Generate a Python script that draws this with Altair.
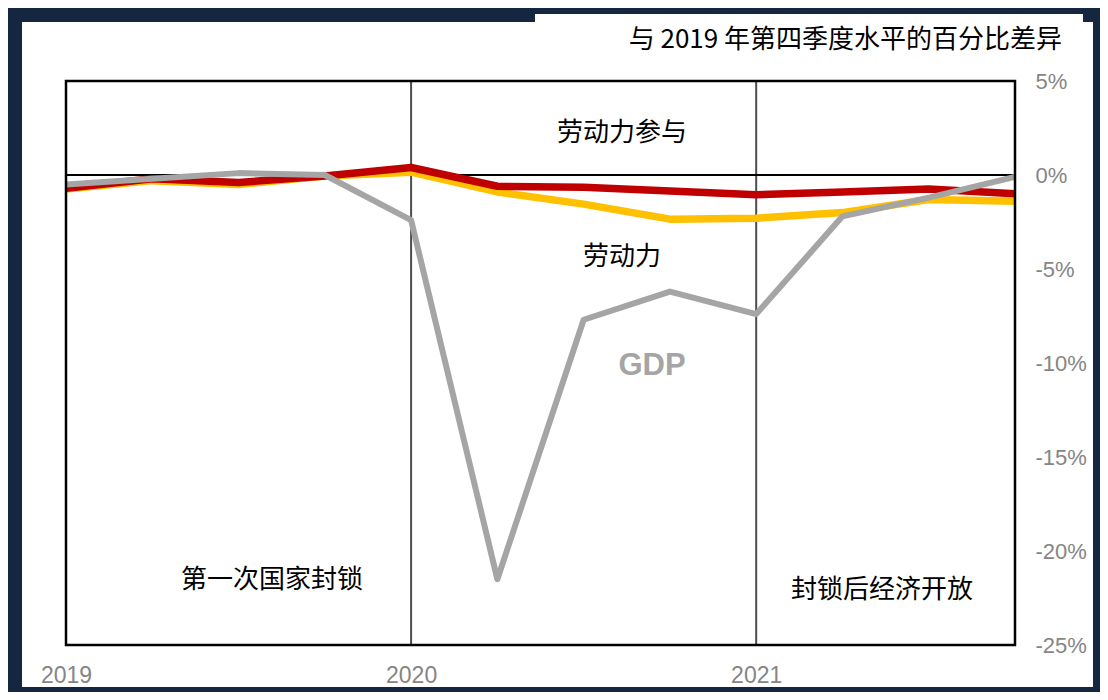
import altair as alt
import pandas as pd

# ---- data (quarters 2019Q1 .. 2021Q4, % difference vs 2019Q4) ----
quarters = ["2019Q1", "2019Q2", "2019Q3", "2019Q4",
            "2020Q1", "2020Q2", "2020Q3", "2020Q4",
            "2021Q1", "2021Q2", "2021Q3", "2021Q4"]
gdp = [-0.5, -0.2, 0.1, 0.0, -2.4, -21.5, -7.7, -6.2, -7.4, -2.2, -1.2, -0.1]
participation = [-0.7, -0.2, -0.4, -0.05, 0.4, -0.6, -0.65, -0.85, -1.05, -0.9, -0.75, -1.0]
labour_force = [-0.75, -0.3, -0.5, -0.05, 0.15, -0.9, -1.55, -2.35, -2.3, -2.0, -1.3, -1.4]

year_ticks = [0, 4, 8]
year_labels = ["2019", "2020", "2021"]
pct_ticks = [5, 0, -5, -10, -15, -20, -25]

series_names = ["劳动力", "劳动力参与", "GDP"]
series_colors = ["#ffc000", "#c00000", "#a5a5a5"]
series_widths = [7.5, 7.5, 6]

rows = []
for name, vals in zip(series_names, [labour_force, participation, gdp]):
    for i, (q, v) in enumerate(zip(quarters, vals)):
        rows.append({"idx": i, "q": q, "value": v, "series": name})
df = pd.DataFrame(rows)

W, H = 949, 564
NAVY = "#152640"

xscale = alt.Scale(domain=[0, 11], nice=False, zero=False)
yscale = alt.Scale(domain=[-25, 5], nice=False, zero=False)

one = pd.DataFrame({"a": [0]})

# white panel and title box
panel = alt.Chart(one).mark_rect(color="white").encode(
    x=alt.value(-44), x2=alt.value(1027), y=alt.value(-59), y2=alt.value(606)
)
title_box = alt.Chart(one).mark_rect(color="white").encode(
    x=alt.value(469), x2=alt.value(1017), y=alt.value(-67), y2=alt.value(-40)
)

# vertical year separators
vdf = pd.DataFrame({"idx": [4, 8]})
vlines = alt.Chart(vdf).mark_rule(color="#4d4d4d", strokeWidth=2).encode(
    x=alt.X("idx:Q", scale=xscale)
)
zero_df = pd.DataFrame({"v": [0]})
zline = alt.Chart(zero_df).mark_rule(color="black", strokeWidth=2).encode(
    y=alt.Y("v:Q", scale=yscale)
)

label_map = "datum.value==0?'2019':datum.value==4?'2020':datum.value==8?'2021':''"

lines = []
for name, col, w in zip(series_names, series_colors, series_widths):
    lines.append(
        alt.Chart(df[df.series == name]).mark_line(color=col, strokeWidth=w, strokeJoin="round").encode(
            x=alt.X("idx:Q", scale=xscale,
                    axis=alt.Axis(values=year_ticks, labelExpr=label_map,
                                  title=None, domain=False, ticks=False, grid=False,
                                  labelFont="Liberation Sans", labelFontSize=23, labelColor="#858585",
                                  labelPadding=19, labelFlush=False, zindex=2)),
            y=alt.Y("value:Q", scale=yscale,
                    axis=alt.Axis(orient="right", values=pct_ticks, labelExpr="datum.value + '%'",
                                  title=None, domain=False, ticks=False, grid=False,
                                  labelFont="Liberation Sans", labelFontSize=22, labelColor="#858585",
                                  labelPadding=20, labelAlign="left", labelFlush=False, zindex=2)),
        )
    )

border = alt.Chart(one).mark_rect(fill="white", fillOpacity=0, stroke="black", strokeWidth=2.5).encode(
    x=alt.value(0), x2=alt.value(W), y=alt.value(0), y2=alt.value(H)
)

CJK = "Noto Sans CJK SC"

def txt(s, x, y, size=26, color="black", font=CJK, align="center", weight="normal"):
    return alt.Chart(one).mark_text(text=s, font=font, fontSize=size, color=color,
                                    align=align, baseline="middle", fontWeight=weight).encode(
        x=alt.value(x), y=alt.value(y))

texts = [
    txt("与 2019 年第四季度水平的百分比差异", 996, -41, size=26, align="right"),
    txt("劳动力参与", 556, 52),
    txt("劳动力", 556, 176),
    txt("GDP", 586, 285, size=31, color="#a5a5a5", font="Liberation Sans", weight="bold"),
    txt("第一次国家封锁", 206, 499),
    txt("封锁后经济开放", 816, 509),
]

chart = alt.layer(panel, title_box, vlines, zline, *lines, border, *texts).properties(
    width=W, height=H, background=NAVY,
    padding={"left": 58, "top": 73, "right": 85, "bottom": 47},
    autosize=alt.AutoSizeParams(type="none"),
).configure_view(stroke=None)

chart.save("out.html", embed_options={"renderer": "svg", "actions": False})
